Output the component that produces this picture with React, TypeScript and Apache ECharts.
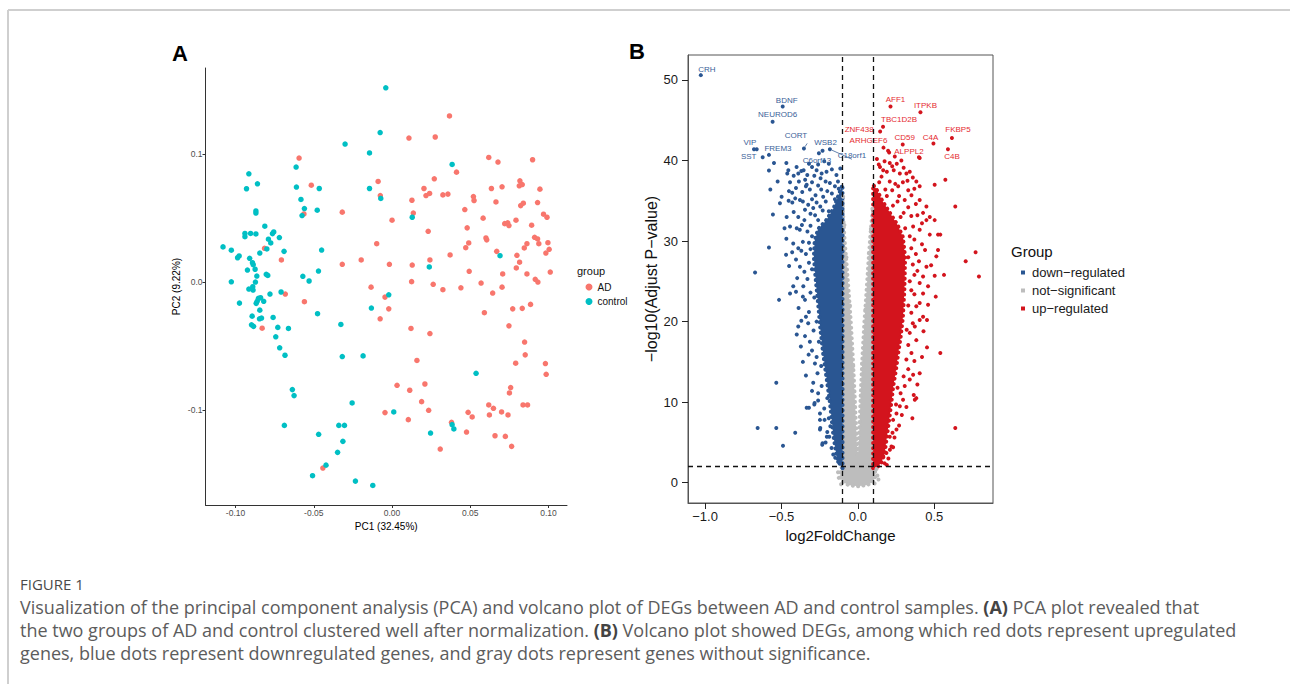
import React, { useEffect, useRef } from "react";
import * as echarts from "echarts";

// ---------------- Panel A : PCA ----------------
const pcaAD: number[][] = [
  [-0.0594,0.097],[-0.0516,0.0758],[-0.0563,0.0533],[-0.0815,0.0264],[-0.0707,0.0173],[-0.0318,0.0547],[-0.0318,0.0139],[-0.0197,0.0173],[-0.0089,0.0787],[-0.0075,0.0677],[0.0,0.0484],[-0.0098,0.030],[-0.0017,0.0139],[-0.0134,-0.004],
  [0.0367,0.130],[0.0108,0.1127],[0.0276,0.1135],[0.0618,0.0975],[0.0677,0.0939],[0.0898,0.0957],[0.0412,0.086],[0.027,0.0808],[0.0204,0.0732],[0.0217,0.0677],[0.024,0.0693],[0.0325,0.0682],[0.0357,0.0688],[0.0127,0.064],[0.0136,0.054],[0.052,0.0669],[0.0524,0.0638],[0.0635,0.0732],[0.0703,0.0745],[0.0664,0.0627],[0.0465,0.0567],[0.0817,0.0792],[0.0813,0.0753],[0.0832,0.0763],[0.0945,0.0727],[0.0822,0.0598],[0.0839,0.0617],[0.093,0.0622],[0.0968,0.0531],[0.099,0.0507],[0.0582,0.05],[0.072,0.0457],[0.0739,0.0463],[0.0747,0.0442],[0.0792,0.0484],[0.0892,0.0445],[0.0231,0.0397],[0.048,0.0424],[0.06,0.0345],[0.0605,0.033],[0.049,0.0306],[0.0471,0.0269],[0.0911,0.035],[0.093,0.0337],[0.0996,0.0308],[0.0862,0.030],[0.0938,0.030],[0.0845,0.0267],[0.1004,0.0256],[0.0983,0.0227],[0.0669,0.024],[0.0371,0.0212],[0.0798,0.0209],[0.0242,0.0173],[0.0815,0.0155],[0.0129,0.0133],[0.0794,0.011],[0.1011,0.0078],[0.0493,0.0084],[0.0707,0.0063],[0.0862,0.0063],[0.0125,0.0003],[0.0263,-0.0018],[0.0569,-0.0008],[0.0915,0.0021],[0.0932,0.0],[0.044,-0.0045],[0.0703,-0.004],[0.0325,-0.006],
  [0.0643,-0.0086],[0.0885,-0.0175],[0.0832,-0.0206],[0.0771,-0.021],[0.059,-0.024],[0.0747,-0.0343],[0.0847,-0.047],[0.0851,-0.057],[0.079,-0.0635],[0.098,-0.0638],[0.0985,-0.0722],[0.0758,-0.0826],[0.075,-0.0868],[0.0618,-0.0962],[0.0648,-0.0988],[0.0622,-0.104],[0.070,-0.1017],[0.0741,-0.104],[0.0837,-0.0962],[0.0866,-0.0962],[0.0486,-0.102],[0.0512,-0.1056],[0.0476,-0.1174],[0.0658,-0.1203],[0.0724,-0.1208],[0.0764,-0.1286],[0.038,-0.1098],[0.0308,-0.1307],[0.0234,-0.1004],[0.0189,-0.0936],[0.021,-0.0798],[0.0113,-0.0847],[0.0032,-0.0808],[-0.0045,-0.1022],[0.0104,-0.1077],[0.0159,-0.0614],[0.0121,-0.0363],[0.0242,-0.0403],[-0.0021,-0.021],[-0.0045,-0.0118],[-0.0076,-0.0288],
  [-0.0682,-0.0094],[-0.056,-0.0154],[-0.083,-0.0361],[-0.0442,-0.1456]
];
const pcaControl: number[][] = [
  [-0.004,0.152],[-0.0076,0.117],[-0.030,0.108],[-0.0144,0.101],[-0.0915,0.0847],[-0.093,0.073],[-0.086,0.0769],[-0.0613,0.090],[-0.0611,0.0743],[-0.0582,0.0646],[-0.056,0.0575],[-0.0575,0.052],[-0.0465,0.0732],[-0.0478,0.0562],[-0.0144,0.0732],[-0.0072,0.0654],[-0.087,0.0556],[-0.087,0.054],[-0.094,0.038],[-0.094,0.0355],[-0.0904,0.038],[-0.087,0.0376],[-0.0813,0.0437],[-0.0756,0.0392],[-0.0764,0.0379],[-0.079,0.0335],[-0.0775,0.0306],[-0.072,0.0348],[-0.108,0.0275],[-0.1027,0.0249],[-0.0977,0.0204],[-0.0987,0.019],[-0.091,0.0186],[-0.0845,0.0227],[-0.080,0.0259],[-0.069,0.024],[-0.0892,0.0151],[-0.0887,0.0136],[-0.0875,0.010],[-0.0924,0.0094],[-0.1027,0.0002],[-0.0873,0.0],[-0.0864,0.0047],[-0.0804,0.006],[-0.0794,0.0052],[-0.045,0.025],[-0.047,0.0086],[-0.057,0.0045],[-0.053,0.0008],
  [0.0384,0.092],[0.0129,0.0507],[0.069,0.0206],[0.0238,0.0118],
  [-0.0021,-0.01],[0.0537,-0.0714],[0.0011,-0.1017],[0.0246,-0.1182],[0.0384,-0.1116],[0.0395,-0.115],
  [-0.0975,-0.0165],[-0.0915,-0.0055],[-0.089,-0.0037],[-0.0888,-0.0063],[-0.0854,-0.0128],[-0.084,-0.0123],[-0.0868,-0.0167],[-0.0862,-0.0151],[-0.082,-0.0151],[-0.078,-0.0094],[-0.0845,-0.022],[-0.0894,-0.0267],[-0.0898,-0.0335],[-0.0885,-0.0347],[-0.0847,-0.0288],[-0.0834,-0.0282],[-0.076,-0.0277],[-0.073,-0.0355],[-0.0743,-0.0429],[-0.0662,-0.0363],[-0.0709,-0.0078],[-0.0718,-0.0515],[-0.0684,-0.0573],[-0.0637,-0.0842],[-0.0626,-0.0889],[-0.0688,-0.1122],[-0.0469,-0.1192],[-0.034,-0.1122],[-0.0304,-0.1122],[-0.0314,-0.1247],[-0.0348,-0.1333],[-0.0422,-0.1433],[-0.0508,-0.1516],[-0.0234,-0.1558],[-0.0123,-0.1592],[-0.0255,-0.0946],[-0.0327,-0.0332],[-0.0318,-0.0583],[-0.0185,-0.0578],[-0.0476,-0.0248],[-0.0132,-0.0204]
];
const pcaXTicks = [-0.1, -0.05, 0, 0.05, 0.1];
const pcaYTicks = [-0.1, 0, 0.1];
const pcaXRange = [-0.1192, 0.1118];
const pcaYRange = [-0.1745, 0.1675];

// ---------------- Panel B : volcano ----------------
// envelopes of the dense (overplotted) clouds
const downCloud: number[][] = [
  [-0.1,1.8],[-0.12,2.4],[-0.14,3.4],[-0.16,5.8],[-0.183,10],[-0.205,13],[-0.227,16],[-0.245,19],[-0.259,22],[-0.275,25],[-0.288,28],[-0.283,30],[-0.26,31.5],[-0.21,32.5],[-0.16,34],[-0.12,36],[-0.1,37]
];
const upCloud: number[][] = [
  [0.1,1.8],[0.13,2],[0.155,2.5],[0.176,3.7],[0.19,5.7],[0.205,7.8],[0.22,10],[0.232,12],[0.25,14],[0.264,16],[0.28,18],[0.295,20.5],[0.305,24],[0.31,28],[0.295,30.5],[0.26,32],[0.21,33.5],[0.16,35],[0.12,36.5],[0.1,37]
];
const nsCloud: number[][] = [
  [-0.1,35],[-0.094,32.5],[-0.086,30],[-0.073,27],[-0.059,23.5],[-0.046,20],[-0.034,16],[-0.021,11],[-0.011,6.5],[-0.004,3.8],[0,3.2],[0.004,3.8],[0.01,6.5],[0.019,11],[0.031,16],[0.043,20],[0.056,23.5],[0.068,27],[0.081,30.5],[0.093,33],[0.1,34],[0.1,2.2],[0.112,1.6],[0.116,0.8],[0.1,0.1],[0.06,-0.3],[0,-0.45],[-0.06,-0.3],[-0.1,0.1],[-0.116,0.8],[-0.112,1.6],[-0.1,2.2]
];
const downPoints: number[][] = [
  [-0.582,38.75],[-0.549,39.7],[-0.468,39.7],[-0.455,38.8],[-0.462,38.4],[-0.525,37.4],[-0.573,36.4],[-0.499,35.5],[-0.444,37.3],[-0.401,39.2],[-0.39,38.4],[-0.355,38.8],[-0.331,38.2],[-0.3,39.2],[-0.27,38.8],[-0.237,38.4],[-0.205,38.6],[-0.244,37.8],[-0.211,37.4],[-0.183,37.2],[-0.15,36.8],[-0.335,37],[-0.386,37.4],[-0.405,36.6],[-0.364,36.1],[-0.314,36.4],[-0.277,35.7],[-0.227,35.5],[-0.379,35.1],[-0.325,34.5],[-0.451,36.2],[-0.429,34.8],[-0.346,33.9],[-0.292,34.1],[-0.246,34.3],[-0.466,33.0],[-0.556,33.3],[-0.51,34.7],[-0.453,35.0],[-0.39,33.0],[-0.444,31.8],[-0.4,31.6],[-0.366,32.0],[-0.468,30.3],[-0.582,29.2],[-0.423,29.7],[-0.39,29.1],[-0.405,27.7],[-0.379,26.8],[-0.397,25.4],[-0.423,24.4],[-0.444,23.5],[-0.405,23.7],[-0.516,22.7],[-0.357,24.4],[-0.346,22.7],[-0.388,21.7],[-0.34,20.6],[-0.325,19.8],[-0.4,18.4],[-0.346,18.2],[-0.373,16.9],[-0.314,17.5],[-0.322,15.9],[-0.281,14.8],[-0.264,13.6],[-0.292,12.4],[-0.534,12.4],[-0.237,12],[-0.32,9.3],[-0.285,9.7],[-0.248,8.6],[-0.218,7.8],[-0.246,6.8],[-0.231,4.9],[-0.203,5.7],[-0.656,6.8],[-0.534,6.8],[-0.41,6.2],[-0.49,4.6],[-0.673,26.1],[-0.172,4.3],[-0.161,3.5],[-0.335,9.3],[-0.283,9.9],[-0.248,7.8],[-0.248,6.6],[-0.233,4.7],[-0.211,5],[-0.187,5.7],[-0.148,3.1],[-0.129,2.6],[-0.662,41.4],
  [-0.31,29],[-0.3,26.5],[-0.285,23],[-0.27,20],[-0.255,17.5],[-0.24,14.5],[-0.2,10.5],[-0.19,8],
  [-0.14,38.2],[-0.17,38.9],[-0.19,39.6],[-0.22,39.9],[-0.26,39.5],[-0.285,38.1],[-0.32,39.6],[-0.345,37.6],[-0.37,38.7],[-0.42,38.1],[-0.43,36.0],[-0.41,35.3],[-0.36,34.9],[-0.34,36.8],[-0.3,37.3],[-0.26,36.9],[-0.24,36.4],[-0.2,36.2],[-0.17,35.9],[-0.13,37.4],[-0.115,39],[-0.125,36.5],[-0.3,35.2],[-0.27,34.8],[-0.31,33.4],[-0.35,32.6],[-0.38,31.4],[-0.33,31.2],[-0.31,31.9],[-0.42,33.6],[-0.48,31.6],[-0.36,29.9],[-0.34,28.4],[-0.32,27.3],[-0.35,26.2],[-0.37,28.8],[-0.33,25.3],[-0.31,23.6],[-0.36,23.1],[-0.32,21.2],[-0.29,18.9],[-0.3,16.4],[-0.27,15.6],[-0.26,11.1],[-0.22,9.2],[-0.2,6.3],[-0.18,7.0],[-0.3,11.4],[-0.26,10.2],[-0.43,28.6],[-0.45,26.9],[-0.47,28.3],[-0.37,20.1],[-0.39,19.4],[-0.36,15.0],[-0.34,13.3],
  [-0.28,33.2],[-0.23,33.8],[-0.19,33.7],[-0.26,32.6],[-0.15,35.2],[-0.21,34.9],[-0.3,30.6],[-0.32,29.8]
];
const upPoints: number[][] = [
  [0.137,39.5],[0.205,41.0],[0.242,40.5],[0.285,40.0],[0.405,40.3],[0.166,38.8],[0.209,39.7],[0.235,38.8],[0.275,38.4],[0.318,38.4],[0.34,38.6],[0.383,37.4],[0.405,36.8],[0.503,37],[0.573,37.6],[0.638,34.3],[0.449,34.3],[0.427,33.5],[0.471,33],[0.503,32.6],[0.449,32.6],[0.405,35.1],[0.351,35.7],[0.307,35.1],[0.264,36.8],[0.209,37.4],[0.155,38],[0.405,31.4],[0.362,31.8],[0.34,30.6],[0.471,30.8],[0.525,30.8],[0.54,30.8],[0.525,28.9],[0.514,28.1],[0.771,28.6],[0.706,27.5],[0.793,25.6],[0.564,25.8],[0.503,25.7],[0.449,26.8],[0.427,25.6],[0.405,24.8],[0.46,24.4],[0.51,23.1],[0.427,23.5],[0.405,22.3],[0.383,21.9],[0.427,20.6],[0.453,20.2],[0.405,20.2],[0.373,19.4],[0.34,18.6],[0.383,17.7],[0.453,16.8],[0.54,16.1],[0.351,16.1],[0.318,15.3],[0.405,13.6],[0.362,13.4],[0.34,12.8],[0.307,12],[0.366,10.9],[0.383,10.5],[0.296,10.3],[0.275,9.5],[0.253,8.6],[0.231,7.8],[0.253,6.6],[0.209,5.7],[0.22,4.5],[0.187,3.7],[0.176,2.4],[0.638,6.8],[0.357,8],[0.288,8.4],[0.318,9.4],[0.373,10.3],[0.27,7.1],[0.227,6.2],[0.231,4.4],[0.19,2.2],[0.166,3.3],[0.198,41.2],[0.33,28],[0.34,25],[0.33,22],[0.32,19],
  [0.125,40.2],[0.145,39.2],[0.175,39.9],[0.19,38.6],[0.225,39.3],[0.255,39.6],[0.3,39.1],[0.325,37.5],[0.36,37.9],[0.295,37.3],[0.245,37.1],[0.18,36.4],[0.225,36.3],[0.27,35.6],[0.33,36.3],[0.37,36.5],[0.38,34.6],[0.33,34.2],[0.3,33.5],[0.35,33.1],[0.39,33.2],[0.42,32.2],[0.37,30.2],[0.35,29.1],[0.38,28.4],[0.36,27.1],[0.4,27.5],[0.42,29.6],[0.44,28.9],[0.37,25.8],[0.39,26.3],[0.35,23.9],[0.37,23.4],[0.35,21.1],[0.36,19.8],[0.33,17.1],[0.37,15.1],[0.33,14.1],[0.3,13.2],[0.28,11.1],[0.26,11.8],[0.25,9.7],[0.24,5.6],[0.21,4.1],[0.2,3.0],[0.43,18.8],[0.42,15.6],[0.39,12.2],[0.46,22.1],[0.48,27.0],
  [0.28,33.0],[0.23,34.4],[0.19,35.6],[0.31,31.6],[0.26,34.9],[0.14,37.3]
];
const nsPoints: number[][] = [
  [-0.125,0.6],[-0.13,1.3],[0.128,0.9],[0.122,1.7],[0.135,0.4],[-0.11,-0.2],[0.11,-0.1],[-0.005,3.4],[0.005,3.6],[-0.03,14.5],[0.028,14.8],[-0.052,22],[0.05,21.5],[-0.075,28],[0.072,28.5],[-0.088,32],[0.085,31.5],[-0.096,35.5],[0.095,34]
];
const geneNames = ["CRH","BDNF","NEUROD6","VIP","SST","FREM3","CORT","WSB2","C6orf13","C18orf1","AFF1","ITPKB","TBC1D2B","ZNF438","ARHGEF6","CD59","C4A","FKBP5","ALPPL2","C4B"];
const geneLog2FC = [-1.028,-0.492,-0.558,-0.68,-0.623,-0.582,-0.353,-0.231,-0.255,-0.183,0.214,0.41,0.165,0.146,0.168,0.294,0.495,0.616,0.4,0.59];
const geneLogP = [50.6,46.7,44.8,41.4,40.4,40.7,41.5,41.2,40.9,41.4,46.7,46.0,44.2,43.6,41.6,42.0,42.1,42.8,40.4,41.4];
const geneGroup = ["down","down","down","down","down","down","down","down","down","down","up","up","up","up","up","up","up","up","up","up"];
const fcCutoffs = [-0.1, 0.1];
const pCutoff = 2;
const volXTicks = [-1, -0.5, 0, 0.5];
const volYTicks = [0, 10, 20, 30, 40, 50];
const volXRange = [-1.112, 0.885];
const volYRange = [-2.52, 53.1];

// label placement (pixels, ggrepel-like)
const labelOffsets: Record<string, number[]> = {
  CRH: [6, -6], BDNF: [4, -6], NEUROD6: [5, -7], VIP: [-4, -7], SST: [-14, -1], FREM3: [9, -6],
  CORT: [-8, -13], WSB2: [3, -8], C6orf13: [-2, 7], C18orf1: [22, 6],
  AFF1: [5, -7], ITPKB: [5, -7], TBC1D2B: [16, -7], ZNF438: [-21, -2], ARHGEF6: [-15, -7],
  CD59: [2, -7], C4A: [-3, -6], FKBP5: [6, -8], ALPPL2: [-10, -6], C4B: [4, 7],
};
const guideLines: Record<string, boolean> = { CORT: true, C18orf1: true };

const F = "'Liberation Sans', Arial, Helvetica, sans-serif";
const CAP_F = "'Open Sans', 'Liberation Sans', sans-serif";
const BLUE = "#2a5692";
const RED = "#d3141d";
const GRAY = "#bdbdbd";
const BLUE_TXT = "#3a6198";
const RED_TXT = "#e52a2f";
const DOWN = "down\u2212regulated";
const NS = "not\u2212significant";
const UP = "up\u2212regulated";

function cloudSeries(name: string, pts: number[][], color: string) {
  return {
    type: "custom",
    name,
    xAxisIndex: 1,
    yAxisIndex: 1,
    clip: true,
    silent: true,
    data: [pts[0]],
    itemStyle: { color },
    renderItem: (_p: any, api: any) => ({
      type: "polygon",
      shape: { points: pts.map((p) => api.coord(p)) },
      style: { fill: color, stroke: color, lineWidth: 4, lineDash: [0.1, 5.2], lineCap: "round" },
    }),
  };
}

function geneSeries(grp: string, name: string, color: string, txt: string) {
  const data = geneNames
    .map((n, i) => ({ n, i }))
    .filter((o) => geneGroup[o.i] === grp)
    .map(({ n, i }) => ({
      name: n,
      value: [geneLog2FC[i], geneLogP[i]],
      label: { offset: labelOffsets[n] },
      labelLine: { show: !!guideLines[n], lineStyle: { color: txt, width: 0.8 } },
    }));
  return {
    type: "scatter",
    name,
    xAxisIndex: 1,
    yAxisIndex: 1,
    symbolSize: 4,
    itemStyle: { color, opacity: 1 },
    data,
    label: {
      show: true,
      position: "inside",
      formatter: "{b}",
      fontSize: 8,
      fontFamily: F,
      color: txt,
    },
  };
}

function buildOption() {
  const capStyle = { fontSize: 18, fontFamily: CAP_F, fill: "#5c5c5c" };
  const rich = { b: { fontSize: 18, fontFamily: CAP_F, fill: "#444", fontWeight: "bold" } };
  const capText = (text: string, y: number) => ({
    type: "text",
    x: 20,
    y,
    style: { ...capStyle, text, rich, textVerticalAlign: "middle", verticalAlign: "middle" },
  });
  return {
    animation: false,
    backgroundColor: "#ffffff",
    grid: [
      { left: 205.5, top: 68, width: 361.5, height: 437 },
      { left: 688, top: 55, width: 305, height: 448, show: true, borderColor: "#555", borderWidth: 1, backgroundColor: "transparent" },
    ],
    xAxis: [
      {
        type: "value", gridIndex: 0, min: pcaXRange[0], max: pcaXRange[1],
        axisLine: { onZero: false, lineStyle: { color: "#333", width: 1 } },
        axisTick: { customValues: pcaXTicks, length: 3, lineStyle: { color: "#333" } },
        axisLabel: { customValues: pcaXTicks, formatter: (v: number) => v.toFixed(2), fontSize: 8.5, color: "#4d4d4d", margin: 3, fontFamily: F },
        splitLine: { show: false },
        name: "PC1 (32.45%)", nameLocation: "middle", nameGap: 13,
        nameTextStyle: { fontSize: 10, color: "#000", fontFamily: F },
      },
      {
        type: "value", gridIndex: 1, min: volXRange[0], max: volXRange[1],
        axisLine: { onZero: false, lineStyle: { color: "#555", width: 1 } },
        axisTick: { customValues: volXTicks, length: 6, lineStyle: { color: "#222" } },
        axisLabel: { customValues: volXTicks, formatter: (v: number) => v.toFixed(1).replace("-", "\u2212"), fontSize: 13, color: "#1a1a1a", margin: 7, fontFamily: F },
        splitLine: { show: false },
        name: "log2FoldChange", nameLocation: "middle", nameGap: 24,
        nameTextStyle: { fontSize: 15, color: "#111", fontFamily: F },
      },
    ],
    yAxis: [
      {
        type: "value", gridIndex: 0, min: pcaYRange[0], max: pcaYRange[1],
        axisLine: { onZero: false, lineStyle: { color: "#333", width: 1 } },
        axisTick: { customValues: pcaYTicks, length: 3, lineStyle: { color: "#333" } },
        axisLabel: { customValues: pcaYTicks, formatter: (v: number) => v.toFixed(1), fontSize: 8.5, color: "#4d4d4d", margin: 3, fontFamily: F },
        splitLine: { show: false },
        name: "PC2 (9.22%)", nameLocation: "middle", nameGap: 24,
        nameTextStyle: { fontSize: 10, color: "#000", fontFamily: F },
      },
      {
        type: "value", gridIndex: 1, min: volYRange[0], max: volYRange[1],
        axisLine: { onZero: false, lineStyle: { color: "#555", width: 1 } },
        axisTick: { customValues: volYTicks, length: 6, lineStyle: { color: "#222" } },
        axisLabel: { customValues: volYTicks, formatter: (v: number) => String(v), fontSize: 13, color: "#1a1a1a", margin: 10, fontFamily: F },
        splitLine: { show: false },
        name: "\u2212log10(Adjust P\u2212value)", nameLocation: "middle", nameGap: 29,
        nameTextStyle: { fontSize: 16, color: "#111", fontFamily: F },
      },
    ],
    legend: [
      {
        data: [{ name: "AD", icon: "circle" }, { name: "control", icon: "circle" }],
        orient: "vertical", left: 580.5, top: 277, itemWidth: 7, itemHeight: 7, itemGap: 4.5,
        selectedMode: false,
        textStyle: { fontSize: 10, fontFamily: F, color: "#111" },
      },
      {
        data: [
          { name: DOWN, icon: "rect", itemStyle: { color: BLUE } },
          { name: NS, icon: "rect", itemStyle: { color: GRAY } },
          { name: UP, icon: "rect", itemStyle: { color: RED } },
        ],
        orient: "vertical", left: 1016, top: 261, itemWidth: 4, itemHeight: 4, itemGap: 5,
        selectedMode: false,
        textStyle: { fontSize: 13, fontFamily: F, color: "#1a1a1a", padding: [0, 0, 0, 2] },
      },
    ],
    graphic: [
      { type: "line", shape: { x1: 8, y1: 10, x2: 1290, y2: 10 }, style: { stroke: "#cfcfcf", lineWidth: 2 } },
      { type: "line", shape: { x1: 8, y1: 10, x2: 8, y2: 684 }, style: { stroke: "#cfcfcf", lineWidth: 2 } },
      { type: "text", x: 180, y: 53, style: { text: "A", fontSize: 22, fontWeight: "bold", fontFamily: F, fill: "#000", textAlign: "center", align: "center", textVerticalAlign: "middle", verticalAlign: "middle" } },
      { type: "text", x: 637, y: 51, style: { text: "B", fontSize: 22, fontWeight: "bold", fontFamily: F, fill: "#000", textAlign: "center", align: "center", textVerticalAlign: "middle", verticalAlign: "middle" } },
      { type: "text", x: 577, y: 271, style: { text: "group", fontSize: 11, fontFamily: F, fill: "#111", textVerticalAlign: "middle", verticalAlign: "middle" } },
      { type: "text", x: 1011, y: 251, style: { text: "Group", fontSize: 15, fontFamily: F, fill: "#111", textVerticalAlign: "middle", verticalAlign: "middle" } },
      { type: "text", x: 20, y: 584, style: { text: "FIGURE 1", fontSize: 15, fontFamily: CAP_F, fill: "#4a4a4a", textVerticalAlign: "middle", verticalAlign: "middle" } },
      capText("Visualization of the principal component analysis (PCA) and volcano plot of DEGs between AD and control samples. {b|(A)} PCA plot revealed that", 607),
      capText("the two groups of AD and control clustered well after normalization. {b|(B)} Volcano plot showed DEGs, among which red dots represent upregulated", 630),
      capText("genes, blue dots represent downregulated genes, and gray dots represent genes without significance.", 653),
    ],
    series: [
      { type: "scatter", name: "AD", xAxisIndex: 0, yAxisIndex: 0, symbolSize: 5.5, itemStyle: { color: "#F8766D", opacity: 1 }, data: pcaAD },
      { type: "scatter", name: "control", xAxisIndex: 0, yAxisIndex: 0, symbolSize: 5.5, itemStyle: { color: "#00BFC4", opacity: 1 }, data: pcaControl },
      cloudSeries(NS, nsCloud, GRAY),
      { type: "scatter", name: NS, xAxisIndex: 1, yAxisIndex: 1, symbolSize: 4, itemStyle: { color: GRAY, opacity: 1 }, data: nsPoints },
      cloudSeries(DOWN, downCloud, BLUE),
      { type: "scatter", name: DOWN, xAxisIndex: 1, yAxisIndex: 1, symbolSize: 4, itemStyle: { color: BLUE, opacity: 1 }, data: downPoints },
      cloudSeries(UP, upCloud, RED),
      { type: "scatter", name: UP, xAxisIndex: 1, yAxisIndex: 1, symbolSize: 4, itemStyle: { color: RED, opacity: 1 }, data: upPoints },
      geneSeries("down", DOWN, BLUE, BLUE_TXT),
      geneSeries("up", UP, RED, RED_TXT),
      {
        type: "scatter", name: "cutoffs", xAxisIndex: 1, yAxisIndex: 1, data: [], z: 10,
        markLine: {
          silent: true, symbol: ["none", "none"], label: { show: false },
          lineStyle: { color: "#111", type: [5, 4], width: 1.3 },
          data: [{ xAxis: fcCutoffs[0] }, { xAxis: fcCutoffs[1] }, { yAxis: pCutoff }],
        },
      },
    ],
  };
}

export default function App() {
  const ref = useRef<HTMLDivElement>(null);
  useEffect(() => {
    const chart = echarts.init(ref.current as HTMLDivElement, null, { renderer: "svg", width: 1290, height: 684 });
    chart.setOption(buildOption() as any);
    return () => chart.dispose();
  }, []);
  return (
    <div
      ref={ref}
      style={{ position: "absolute", left: 0, top: 0, width: 1290, height: 684, background: "#fff" }}
    />
  );
}
